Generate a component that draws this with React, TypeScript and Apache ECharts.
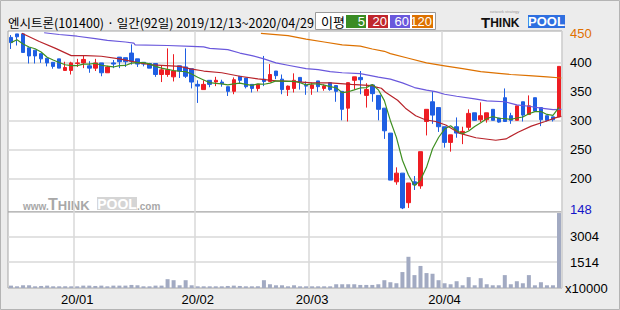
import React, { useEffect, useRef } from 'react';
import * as echarts from 'echarts';

// ---------- data ----------
const dates: string[] = [
  '2019-12-13','2019-12-16','2019-12-17','2019-12-18','2019-12-19','2019-12-20','2019-12-23','2019-12-24','2019-12-26','2019-12-27','2019-12-30',
  '2020-01-02','2020-01-03','2020-01-06','2020-01-07','2020-01-08','2020-01-09','2020-01-10','2020-01-13','2020-01-14','2020-01-15','2020-01-16','2020-01-17','2020-01-20','2020-01-21','2020-01-22','2020-01-23','2020-01-28','2020-01-29','2020-01-30','2020-01-31',
  '2020-02-03','2020-02-04','2020-02-05','2020-02-06','2020-02-07','2020-02-10','2020-02-11','2020-02-12','2020-02-13','2020-02-14','2020-02-17','2020-02-18','2020-02-19','2020-02-20','2020-02-21','2020-02-24','2020-02-25','2020-02-26','2020-02-27',
  '2020-03-02','2020-03-03','2020-03-04','2020-03-05','2020-03-06','2020-03-09','2020-03-10','2020-03-11','2020-03-12','2020-03-13','2020-03-16','2020-03-17','2020-03-18','2020-03-19','2020-03-20','2020-03-23','2020-03-24','2020-03-25','2020-03-26','2020-03-27','2020-03-30','2020-03-31',
  '2020-04-01','2020-04-02','2020-04-03','2020-04-06','2020-04-07','2020-04-08','2020-04-09','2020-04-10','2020-04-13','2020-04-14','2020-04-16','2020-04-17','2020-04-20','2020-04-21','2020-04-22','2020-04-23','2020-04-24','2020-04-27','2020-04-28','2020-04-29',
];

// [open, close, low, high]
const ohlc: number[][] = [
  [444,435,424,448],[450,445,430,450],[450,418,418,450],[426,412,399,426],[422,412,399,422],
  [416,407,400,416],[408,400,394,408],[401,394,390,401],[407,391,391,407],[387,392,387,402],
  [387,400,380,402],[399,400,393,407],[400,406,391,412],[395,391,383,403],[391,400,386,407],
  [400,383,377,400],[383,393,383,395],[400,398,391,405],[410,402,391,410],[409,402,393,409],
  [417,403,397,432],[407,398,393,407],[401,398,394,401],[399,391,391,400],[399,380,376,399],
  [380,388,367,395],[380,388,376,425],[376,386,368,415],[395,386,374,395],[393,377,374,425],
  [390,367,356,390],[363,360,331,370],[354,363,354,370],[370,363,358,370],[367,370,360,376],
  [367,364,359,371],[359,351,343,359],[351,371,346,375],[377,370,365,377],[374,359,356,374],
  [363,356,349,363],[356,363,351,363],[372,368,360,412],[368,380,367,398],[386,378,372,386],
  [372,354,346,380],[354,360,343,361],[356,370,349,382],[375,367,354,375],[361,360,345,368],
  [356,362,345,366],[369,359,350,369],[356,360,352,363],[366,354,352,366],[361,351,333,361],
  [351,320,301,351],[322,366,299,366],[370,376,354,376],[375,371,346,386],[344,354,323,365],
  [362,347,333,362],[344,320,301,344],[322,283,269,322],[279,198,198,279],[195,210,190,220],
  [210,150,148,210],[159,193,150,193],[195,190,181,205],[188,247,183,247],[299,320,275,320],
  [333,310,295,351],[323,290,281,323],[290,263,254,290],[263,276,247,276],[290,279,271,306],
  [279,282,260,290],[289,313,284,320],[314,301,300,314],[302,309,298,332],[302,314,297,314],
  [320,301,301,320],[305,298,297,305],[340,299,299,356],[309,301,295,314],[301,326,301,326],
  [333,310,299,333],[311,326,311,344],[340,317,317,340],[323,302,291,323],[309,301,299,309],
  [307,302,299,307],[307,394,307,394],
];

// volume, in units of 10000 shares
const volumes: number[] = [
  139,99,159,159,99,119,139,99,99,99,99,99,139,139,119,139,99,139,139,139,
  179,159,99,99,139,139,517,457,159,457,159,99,99,99,99,99,119,139,119,99,
  99,99,457,219,159,159,99,159,99,99,99,99,99,99,219,219,219,219,179,179,
  179,219,457,338,278,934,1828,755,1292,874,835,457,278,219,397,159,636,159,576,219,
  159,159,755,219,397,278,755,159,338,159,159,4391,
];

// moving averages: [day index, price]
const ma20Points: number[][] = [
  [1.8,451],[4.7,437],[7.4,425],[10,412.6],[12.4,412.6],[15,411.5],[18,407],[21.3,400],[23.5,396.6],
  [25.8,395.4],[28,394],[29.8,389.7],[32,386],[35,383],[38,377],[41,372.4],[44,369],[46.5,368],
  [50,365.5],[53,365.5],[56.5,363],[60,361],[60.5,358.6],[61.5,356.3],[62.2,349.4],[64.2,335.6],[65.5,322],
  [67.2,309],[68.8,302],[70.5,299],[72.2,293],[74.4,279],[77.2,271],[80.5,266.7],[82.2,269],
  [84.2,280.5],[86.4,291],[88.7,299],[90.5,305.7],[91.4,308],
];
const ma60Points: number[][] = [
  [5.5,452],[8,449],[11,446],[14,442],[16,439],[19,436],[20.4,434],[20.6,431],[26,430],[30,428.5],
  [32,427.6],[33,425],[36,423],[38,417],[40,412.6],[42,407],[44,400],[46,396],[49,390],[51,388.5],
  [53,385],[55,383],[58,381.6],[59.3,379],[61,375.5],[63,372],[65,365.5],[67,357.5],[69,353],
  [70.5,350.6],[72,346],[74,342.5],[77,338],[79,334.5],[82,333],[84,327.6],[86,325.3],[88,322],
  [90,319.5],[91.4,320],
];
const ma120Points: number[][] = [
  [41.5,451],[46,447],[49,441],[52,436],[55,431],[58,429],[60,424],[62,420],[63,416],[66,408],
  [69,400],[72,395],[75,390],[78,385],[81,382],[83,380],[86,378],[89,376],[91.4,374],
];

const priceTickLabels: number[] = [148, 200, 250, 300, 350, 400, 450];
const priceGridValues: number[] = [200, 250, 300, 350, 400];
const volumeTickLabels: number[] = [1514, 3004];

// ---------- derived ----------
const closes = ohlc.map((d) => d[1]);
const ma5Points = closes.map((_, i) => {
  const from = Math.max(0, i - 4);
  const slice = closes.slice(from, i + 1);
  return [i, slice.reduce((a, b) => a + b, 0) / slice.length];
});
const monthStart = dates.map((d, i) => i > 0 && d.slice(5, 7) !== dates[i - 1].slice(5, 7));

const UP = '#ee1d23';
const DOWN = '#1f5fe3';
const GRID_LINE = '#d9d9d9';
const LABEL_FONT = '"Liberation Sans Narrow", "Liberation Sans", Arial, sans-serif';

export default function App() {
  const ref = useRef<HTMLDivElement>(null);
  useEffect(() => {
    document.body.style.margin = '0';
    const chart = echarts.init(ref.current as HTMLDivElement, null, { renderer: 'svg' });
    const option: any = {
      animation: false,
      backgroundColor: '#ececec',
      grid: [
        { left: 8, top: 31, width: 554, height: 181, show: true, backgroundColor: '#ffffff', borderColor: '#a4a4a4', borderWidth: 1 },
        { left: 8, top: 212, width: 554, height: 76, show: true, backgroundColor: '#ffffff', borderColor: '#a4a4a4', borderWidth: 1 },
      ],
      xAxis: [
        {
          type: 'category', gridIndex: 0, data: dates, boundaryGap: true,
          axisLine: { show: false }, axisTick: { show: false }, axisLabel: { show: false },
          splitLine: { show: true, interval: (i: number) => monthStart[i], lineStyle: { color: GRID_LINE, width: 1.5 } },
        },
        {
          type: 'category', gridIndex: 1, data: dates, boundaryGap: true,
          axisLine: { show: false }, axisTick: { show: false },
          axisLabel: {
            show: true, interval: (i: number) => monthStart[i],
            formatter: (v: string) => v.slice(2, 4) + '/' + v.slice(5, 7),
            color: '#000', fontSize: 13, margin: 5, fontFamily: LABEL_FONT,
          },
          splitLine: { show: true, interval: (i: number) => monthStart[i], lineStyle: { color: GRID_LINE, width: 1.5 } },
        },
        { type: 'value', gridIndex: 0, min: -0.5, max: 91.5, show: false },
      ],
      yAxis: [
        {
          type: 'value', gridIndex: 0, position: 'right', min: 143, max: 455, scale: true,
          axisLine: { show: false },
          axisTick: { show: false, customValues: priceGridValues },
          axisLabel: {
            customValues: priceTickLabels, margin: 8, fontSize: 13, fontFamily: LABEL_FONT,
            formatter: (v: any) => String(v),
            color: (v: any) => (Number(v) === 450 ? '#e07000' : Number(v) === 148 ? '#1515c8' : '#000'),
          },
          splitLine: { show: true, lineStyle: { color: GRID_LINE, width: 1.5 } },
        },
        {
          type: 'value', gridIndex: 1, position: 'right', min: 0, max: 4452,
          axisLine: { show: false },
          axisTick: { show: false, customValues: volumeTickLabels },
          axisLabel: { customValues: volumeTickLabels, margin: 8, fontSize: 13, color: '#000', fontFamily: LABEL_FONT, formatter: (v: any) => String(v) },
          splitLine: { show: true, lineStyle: { color: GRID_LINE, width: 1.5 } },
        },
      ],
      series: [
        {
          type: 'candlestick', xAxisIndex: 0, yAxisIndex: 0, data: ohlc, barWidth: 4,
          itemStyle: { color: UP, color0: DOWN, borderColor: UP, borderColor0: DOWN, borderWidth: 1 },
        },
        { type: 'line', xAxisIndex: 2, yAxisIndex: 0, data: ma120Points, symbol: 'none', lineStyle: { color: '#dd7100', width: 1.2 } },
        { type: 'line', xAxisIndex: 2, yAxisIndex: 0, data: ma60Points, symbol: 'none', lineStyle: { color: '#6a58dc', width: 1.2 } },
        { type: 'line', xAxisIndex: 2, yAxisIndex: 0, data: ma20Points, symbol: 'none', lineStyle: { color: '#b8232a', width: 1.2 } },
        { type: 'line', xAxisIndex: 2, yAxisIndex: 0, data: ma5Points, symbol: 'none', lineStyle: { color: '#3f8f22', width: 1.2 } },
        {
          type: 'bar', xAxisIndex: 1, yAxisIndex: 1, data: volumes, barWidth: 4,
          itemStyle: { color: '#a2aac2' },
        },
      ],
      graphic: [
        { type: 'rect', shape: { x: 0.5, y: 0.5, width: 619, height: 309 }, style: { fill: 'none', stroke: '#b4b4b4', lineWidth: 1 }, silent: true },
        {
          type: 'text', x: 8, y: 22.5,
          style: { text: '엔시트론(101400) · 일간(92일) 2019/12/13~2020/04/29', font: '12.5px "Noto Sans CJK KR"', fill: '#000', verticalAlign: 'middle' },
        },
        // legend box
        { type: 'rect', shape: { x: 315.5, y: 12.5, width: 120, height: 17 }, style: { fill: '#fff', stroke: '#9a9a9a', lineWidth: 1 } },
        { type: 'text', x: 321, y: 21.5, style: { text: '이평', font: '13px "Noto Sans CJK KR"', fill: '#000', verticalAlign: 'middle' } },
        { type: 'rect', shape: { x: 346, y: 15, width: 20, height: 13 }, style: { fill: '#3a8c24' } },
        { type: 'rect', shape: { x: 368, y: 15, width: 20, height: 13 }, style: { fill: '#c0262c' } },
        { type: 'rect', shape: { x: 390, y: 15, width: 20, height: 13 }, style: { fill: '#6a58dc' } },
        { type: 'rect', shape: { x: 412, y: 15, width: 21, height: 13 }, style: { fill: '#dd7100' } },
        { type: 'text', x: 365, y: 21.5, style: { text: '5', font: '13px ' + LABEL_FONT, fill: '#fff', align: 'right', verticalAlign: 'middle' } },
        { type: 'text', x: 387, y: 21.5, style: { text: '20', font: '13px ' + LABEL_FONT, fill: '#fff', align: 'right', verticalAlign: 'middle' } },
        { type: 'text', x: 409, y: 21.5, style: { text: '60', font: '13px ' + LABEL_FONT, fill: '#fff', align: 'right', verticalAlign: 'middle' } },
        { type: 'text', x: 432, y: 21.5, style: { text: '120', font: '13px ' + LABEL_FONT, fill: '#fff', align: 'right', verticalAlign: 'middle' } },
        // THINKPOOL logo
        { type: 'text', x: 490, y: 9, style: { text: 'network strategy', font: '4px sans-serif', fill: '#999' } },
        {
          type: 'text', x: 481, y: 22,
          style: {
            text: '{a|T}{b|HINK}', verticalAlign: 'middle', fill: '#111',
            rich: { a: { font: 'bold 15px "Liberation Sans"', fill: '#111' }, b: { font: 'bold 12px "Liberation Sans"', fill: '#111', padding: [2, 0, 0, 0] } },
          },
        },
        { type: 'rect', shape: { x: 528, y: 15, width: 37, height: 13 }, style: { fill: '#2f6fe0' } },
        { type: 'text', x: 546.5, y: 21.8, style: { text: 'POOL', font: 'bold 13px "Liberation Sans"', fill: '#fff', align: 'center', verticalAlign: 'middle' } },
        // watermark
        { type: 'text', x: 23, y: 206, style: { text: 'www.', font: 'bold 10px "Liberation Sans"', fill: '#a8a8a8', verticalAlign: 'middle' } },
        {
          type: 'text', x: 48, y: 204,
          style: {
            text: '{a|T}{b|HINK}', verticalAlign: 'middle',
            rich: { a: { font: 'bold 16px "Liberation Sans"', fill: '#a8a8a8' }, b: { font: 'bold 13px "Liberation Sans"', fill: '#a8a8a8', padding: [2, 0, 0, 0] } },
          },
        },
        { type: 'rect', shape: { x: 97, y: 197, width: 40, height: 13 }, style: { fill: '#d5d5d5' } },
        { type: 'text', x: 117, y: 204, style: { text: 'POOL', font: 'bold 14px "Liberation Sans"', fill: '#fff', align: 'center', verticalAlign: 'middle' } },
        { type: 'text', x: 137, y: 206, style: { text: '.com', font: 'bold 10px "Liberation Sans"', fill: '#a8a8a8', verticalAlign: 'middle' } },
        // volume unit
        { type: 'text', x: 565, y: 288, style: { text: 'x10000', font: '13px ' + LABEL_FONT, fill: '#000', verticalAlign: 'middle' } },
      ],
    };
    chart.setOption(option);
    return () => chart.dispose();
  }, []);
  return <div ref={ref} style={{ width: 620, height: 310 }} />;
}
